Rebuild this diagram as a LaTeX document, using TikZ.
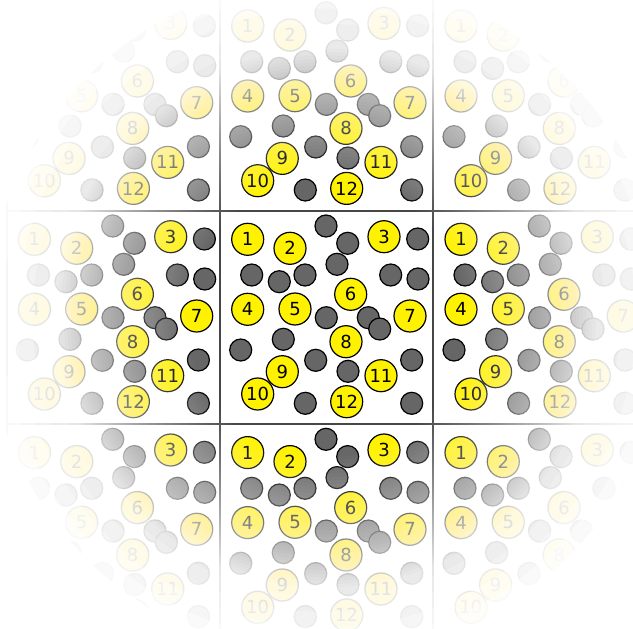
\documentclass[tikz,border=0pt]{standalone}
\usepackage{fontspec}
\newfontfamily\ballfont{DejaVu Sans}

\newcommand{\cellbody}{%
  \draw[cellline] (0,0) rectangle (213.3,213.3);
  \foreach \px/\py [count=\k] in {106/15, 127.7/32.3, 197.7/28, 31.7/64, 59.3/70.7, 85/64,
      117/53.3, 170.7/64, 198/68, 106.3/106.7, 148.3/106.7, 159.7/118, 20.7/139,
      63.3/128.3, 95.7/149.3, 128/160.3, 191.7/149, 85.3/192.3, 191.7/192.3}
    \node[greyball] (g\k) at (\px,\py) {};
  \foreach \px/\py [count=\k] in {27.7/28.3, 70/37.3, 164/25.7, 27.7/98.3, 75/98, 130.7/83.3,
      190/105, 126/130.7, 62.3/160.7, 37.7/183, 161/164.7, 126.7/190.7}
    \node[yellowball] (y\k) at (\px,\py) {\k};
}

\begin{document}
\begin{tikzpicture}[x=1pt, y=-1pt,
    cellline/.style={draw=black!72, line width=1.8pt},
    greyball/.style={draw=black, line width=1.2pt, circle, fill=black!60, inner sep=0pt, minimum size=22pt},
    yellowball/.style={draw=black, line width=1.2pt, circle, fill=yellow, inner sep=0pt, minimum size=32pt,
        font=\ballfont\fontsize{18}{18}\selectfont},
    veil/.style={fill=white, even odd rule, draw=none}
  ]
  \useasboundingbox (0,0) rectangle (633,629);
  \clip (0,0) rectangle (633,629);

  % periodic images of the box
  \foreach \i in {-1,0,1}{
    \foreach \j in {-1,0,1}{
      \begin{scope}[shift={(220+\i*213.3,211+\j*213.3)}, name prefix=c\i\j-]
        \cellbody
      \end{scope}
    }
  }

  % white veil growing towards the outside
  \coordinate (mid) at (326.5,318);
  \foreach \k in {1,...,45}{
    \pgfmathsetmacro{\rr}{max(136+150*\k/45, 271+690*(\k/45-0.9))}
    \pgfmathsetmacro{\aa}{1/(46-\k)}
    \fill[veil, fill opacity=\aa] (-60,-60) rectangle (700,700) (mid) circle (\rr);
  }
\end{tikzpicture}
\end{document}
